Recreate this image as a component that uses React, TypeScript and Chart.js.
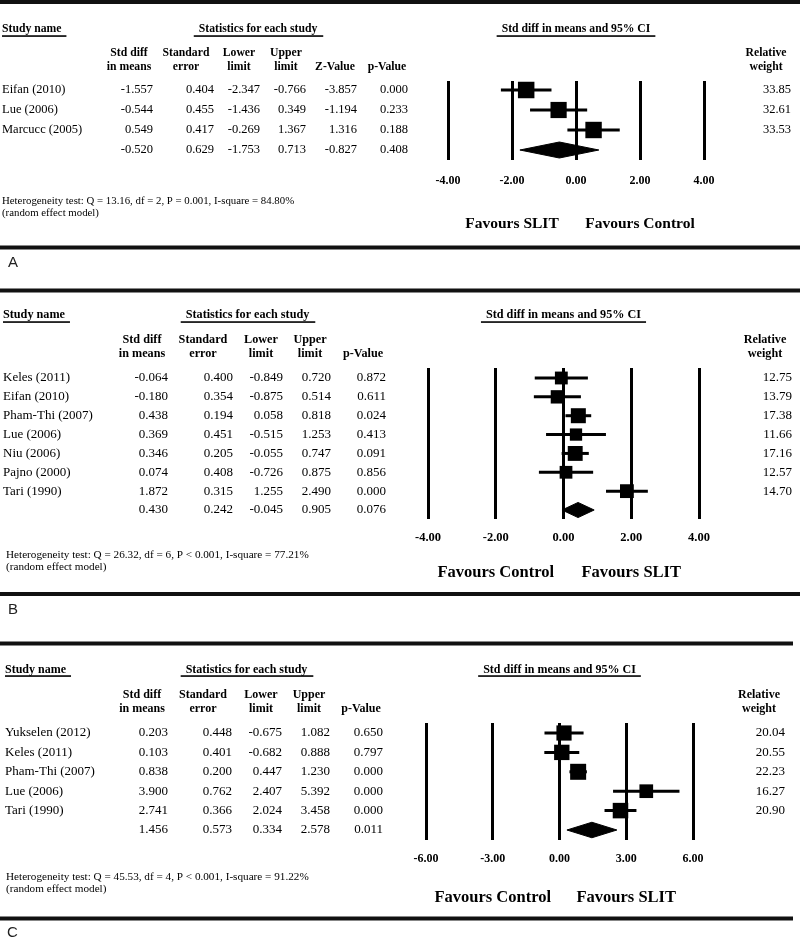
import React, { useEffect, useRef } from 'react';
import { Chart, registerables } from 'chart.js';

Chart.register(...registerables);

// ---------------- Panel A data ----------------
const studiesA = ['Eifan (2010)', 'Lue (2006)', 'Marcucc (2005)'];
const smdA = [-1.557, -0.544, 0.549];
const seA = [0.404, 0.455, 0.417];
const lowerA = [-2.347, -1.436, -0.269];
const upperA = [-0.766, 0.349, 1.367];
const zA = [-3.857, -1.194, 1.316];
const pA = [0.0, 0.233, 0.188];
const weightA = [33.85, 32.61, 33.53];
const pooledA = [-0.52, 0.629, -1.753, 0.713, -0.827, 0.408]; // smd, se, lower, upper, z, p
const ticksA = [-4, -2, 0, 2, 4];
const hetA = ['Heterogeneity test: Q = 13.16, df = 2, P = 0.001, I-square = 84.80%', '(random effect model)'];
const favoursA = ['Favours SLIT', 'Favours Control'];

// ---------------- Panel B data ----------------
const studiesB = ['Keles (2011)', 'Eifan (2010)', 'Pham-Thi (2007)', 'Lue (2006)', 'Niu (2006)', 'Pajno (2000)', 'Tari (1990)'];
const smdB = [-0.064, -0.18, 0.438, 0.369, 0.346, 0.074, 1.872];
const seB = [0.4, 0.354, 0.194, 0.451, 0.205, 0.408, 0.315];
const lowerB = [-0.849, -0.875, 0.058, -0.515, -0.055, -0.726, 1.255];
const upperB = [0.72, 0.514, 0.818, 1.253, 0.747, 0.875, 2.49];
const pB = [0.872, 0.611, 0.024, 0.413, 0.091, 0.856, 0.0];
const weightB = [12.75, 13.79, 17.38, 11.66, 17.16, 12.57, 14.7];
const pooledB = [0.43, 0.242, -0.045, 0.905, 0.076]; // smd, se, lower, upper, p
const ticksB = [-4, -2, 0, 2, 4];
const hetB = ['Heterogeneity test: Q = 26.32, df = 6, P < 0.001, I-square = 77.21%', '(random effect model)'];
const favoursB = ['Favours Control', 'Favours SLIT'];

// ---------------- Panel C data ----------------
const studiesC = ['Yukselen (2012)', 'Keles (2011)', 'Pham-Thi (2007)', 'Lue (2006)', 'Tari (1990)'];
const smdC = [0.203, 0.103, 0.838, 3.9, 2.741];
const seC = [0.448, 0.401, 0.2, 0.762, 0.366];
const lowerC = [-0.675, -0.682, 0.447, 2.407, 2.024];
const upperC = [1.082, 0.888, 1.23, 5.392, 3.458];
const pC = [0.65, 0.797, 0.0, 0.0, 0.0];
const weightC = [20.04, 20.55, 22.23, 16.27, 20.9];
const pooledC = [1.456, 0.573, 0.334, 2.578, 0.011]; // smd, se, lower, upper, p
const ticksC = [-6, -3, 0, 3, 6];
const hetC = ['Heterogeneity test: Q = 45.53, df = 4, P < 0.001, I-square = 91.22%', '(random effect model)'];
const favoursC = ['Favours Control', 'Favours SLIT'];

const headersWithZ = [['Std diff', 'in means'], ['Standard', 'error'], ['Lower', 'limit'], ['Upper', 'limit'], ['', 'Z-Value'], ['', 'p-Value']];
const headersNoZ = [['Std diff', 'in means'], ['Standard', 'error'], ['Lower', 'limit'], ['Upper', 'limit'], ['', 'p-Value']];

const SERIF = '"Liberation Serif", "Times New Roman", serif';
const SANS = '"Liberation Sans", Arial, sans-serif';

type Layout = {
  top: number; height: number;
  ruleTop: number; ruleBottom: number; ruleRight: number;
  headY: number; underY: number; labelX: number; hetX: number;
  colCenters: number[]; colRights: number[]; colHeadY: number[];
  rwCenter: number; rwRight: number;
  plotLeft: number; plotRight: number; plotTop: number; plotBottom: number;
  yMin: number; yMax: number; tickPad: number;
  favY: number; hetY: number[]; letterX: number; letterY: number;
  headSize: number; bodySize: number; hetSize: number; favSize: number; tickSize: number;
  maxSide: number;
};

type Panel = {
  letter: string;
  studies: string[];
  columns: number[][];
  pooled: number[];
  smd: number[]; lower: number[]; upper: number[]; weight: number[];
  ticks: number[];
  headers: string[][];
  het: string[];
  favours: string[];
  L: Layout;
};

const panels: Panel[] = [
  {
    letter: 'A', studies: studiesA, columns: [smdA, seA, lowerA, upperA, zA, pA], pooled: pooledA,
    smd: smdA, lower: lowerA, upper: upperA, weight: weightA, ticks: ticksA, headers: headersWithZ,
    het: hetA, favours: favoursA,
    L: {
      top: 0, height: 275, ruleTop: 2, ruleBottom: 247.5, ruleRight: 800,
      headY: 29, underY: 36, labelX: 2, hetX: 2,
      colCenters: [129, 186, 239, 286, 335, 387], colRights: [153, 214, 260, 306, 357, 408], colHeadY: [53, 67],
      rwCenter: 766, rwRight: 791,
      plotLeft: 448, plotRight: 704, plotTop: 81, plotBottom: 160, yMin: -0.45, yMax: 3.5, tickPad: 14,
      favY: 224, hetY: [201, 213], letterX: 8, letterY: 263,
      headSize: 11.7, bodySize: 12.5, hetSize: 10.8, favSize: 15.5, tickSize: 12, maxSide: 16.5,
    },
  },
  {
    letter: 'B', studies: studiesB, columns: [smdB, seB, lowerB, upperB, pB], pooled: pooledB,
    smd: smdB, lower: lowerB, upper: upperB, weight: weightB, ticks: ticksB, headers: headersNoZ,
    het: hetB, favours: favoursB,
    L: {
      top: 275, height: 345, ruleTop: 290.5, ruleBottom: 594, ruleRight: 800,
      headY: 315, underY: 322, labelX: 3, hetX: 6,
      colCenters: [142, 203, 261, 310, 363], colRights: [168, 233, 283, 331, 386], colHeadY: [340, 354],
      rwCenter: 765, rwRight: 792,
      plotLeft: 428, plotRight: 699, plotTop: 368, plotBottom: 519, yMin: -0.53, yMax: 7.477, tickPad: 11,
      favY: 573, hetY: [555, 567], letterX: 8, letterY: 610,
      headSize: 12.2, bodySize: 13, hetSize: 11.2, favSize: 16.5, tickSize: 12.5, maxSide: 15,
    },
  },
  {
    letter: 'C', studies: studiesC, columns: [smdC, seC, lowerC, upperC, pC], pooled: pooledC,
    smd: smdC, lower: lowerC, upper: upperC, weight: weightC, ticks: ticksC, headers: headersNoZ,
    het: hetC, favours: favoursC,
    L: {
      top: 620, height: 324, ruleTop: 643.5, ruleBottom: 918.5, ruleRight: 793,
      headY: 670, underY: 676, labelX: 5, hetX: 6,
      colCenters: [142, 203, 261, 309, 361], colRights: [168, 232, 282, 330, 383], colHeadY: [695, 709],
      rwCenter: 759, rwRight: 785,
      plotLeft: 426, plotRight: 693, plotTop: 723, plotBottom: 840, yMin: -0.515, yMax: 5.515, tickPad: 12,
      favY: 898, hetY: [877, 889], letterX: 7, letterY: 933,
      headSize: 12, bodySize: 13, hetSize: 11.2, favSize: 16.5, tickSize: 12, maxSide: 16,
    },
  },
];

function tablePlugin(P: Panel) {
  return {
    id: 'forestTable' + P.letter,
    afterDraw(chart: any) {
      const ctx: CanvasRenderingContext2D = chart.ctx;
      const L = P.L;
      const Y = (y: number) => y - L.top;
      const ys = chart.scales.y;
      const xs = chart.scales.x;
      ctx.save();
      // thick rules
      ctx.fillStyle = '#111';
      ctx.fillRect(0, Y(L.ruleTop) - 2, L.ruleRight, 4);
      ctx.fillRect(0, Y(L.ruleBottom) - 2, L.ruleRight, 4);

      ctx.fillStyle = '#000';
      ctx.textBaseline = 'middle';
      const head = `bold ${L.headSize}px ${SERIF}`;
      const body = `${L.bodySize}px ${SERIF}`;

      // section headers with underlines
      ctx.font = head;
      const underline = (x1: number, x2: number) => ctx.fillRect(x1, Y(L.underY) - 0.75, x2 - x1, 1.6);
      ctx.textAlign = 'left';
      ctx.fillText('Study name', L.labelX, Y(L.headY));
      let w = ctx.measureText('Study name').width;
      underline(L.labelX, L.labelX + w + 5);

      const statText = 'Statistics for each study';
      const statCenter = (L.colCenters[0] + L.colCenters[L.colCenters.length - 1]) / 2 + (P.headers.length === 6 ? 0 : -5);
      ctx.textAlign = 'center';
      ctx.fillText(statText, statCenter, Y(L.headY));
      w = ctx.measureText(statText).width;
      underline(statCenter - w / 2 - 5, statCenter + w / 2 + 6);

      const ciText = 'Std diff in means and 95% CI';
      const ciCenter = (xs.left + xs.right) / 2;
      ctx.fillText(ciText, ciCenter, Y(L.headY));
      w = ctx.measureText(ciText).width;
      underline(ciCenter - w / 2 - 5, ciCenter + w / 2 + 5);

      // column headers
      P.headers.forEach((h, c) => {
        if (h[0]) ctx.fillText(h[0], L.colCenters[c], Y(L.colHeadY[0]));
        ctx.fillText(h[1], L.colCenters[c], Y(L.colHeadY[1]));
      });
      ctx.fillText('Relative', L.rwCenter, Y(L.colHeadY[0]));
      ctx.fillText('weight', L.rwCenter, Y(L.colHeadY[1]));

      // rows
      ctx.font = body;
      const n = P.studies.length;
      for (let i = 0; i <= n; i++) {
        const y = ys.getPixelForValue(i);
        if (i < n) {
          ctx.textAlign = 'left';
          ctx.fillText(P.studies[i], L.labelX, y);
        }
        ctx.textAlign = 'right';
        P.columns.forEach((col, c) => {
          const v = i < n ? col[i] : P.pooled[c];
          ctx.fillText(v.toFixed(3), L.colRights[c], y);
        });
        if (i < n) ctx.fillText(P.weight[i].toFixed(2), L.rwRight, y);
      }

      // heterogeneity
      ctx.font = `${L.hetSize}px ${SERIF}`;
      ctx.textAlign = 'left';
      P.het.forEach((t, k) => ctx.fillText(t, L.hetX, Y(L.hetY[k])));

      // favours labels under the inner ticks
      ctx.font = `bold ${L.favSize}px ${SERIF}`;
      ctx.textAlign = 'center';
      ctx.fillText(P.favours[0], xs.getPixelForValue(P.ticks[1]), Y(L.favY));
      ctx.fillText(P.favours[1], xs.getPixelForValue(P.ticks[3]), Y(L.favY));

      // panel letter
      ctx.font = `15px ${SANS}`;
      ctx.fillStyle = '#222';
      ctx.textAlign = 'left';
      ctx.fillText(P.letter, L.letterX, Y(L.letterY));
      ctx.restore();
    },
  };
}

function buildConfig(P: Panel): any {
  const L = P.L;
  const n = P.studies.length;
  const wmax = Math.max(...P.weight);
  const datasets: any[] = [];
  P.studies.forEach((_, i) => {
    datasets.push({
      data: [{ x: P.lower[i], y: i }, { x: P.upper[i], y: i }],
      showLine: true, borderColor: '#000', borderWidth: 3, pointRadius: 0, clip: false, fill: false,
    });
  });
  datasets.push({
    data: P.smd.map((v, i) => ({ x: v, y: i })),
    pointStyle: 'rect',
    pointRadius: P.weight.map((wt) => (L.maxSide * Math.sqrt(wt / wmax)) / Math.SQRT2),
    backgroundColor: '#000', borderColor: '#000', borderWidth: 0, clip: false,
  });
  const [pSmd, , pLo, pHi] = P.pooled;
  datasets.push({
    data: [
      { x: pLo, y: n }, { x: pSmd, y: n - 0.4 }, { x: pHi, y: n }, { x: pSmd, y: n + 0.4 }, { x: pLo, y: n },
    ],
    showLine: true, fill: 'shape', backgroundColor: '#000', borderColor: '#000', borderWidth: 1,
    pointRadius: 0, clip: false, tension: 0,
  });
  const step = P.ticks[1] - P.ticks[0];
  return {
    type: 'scatter',
    data: { datasets },
    options: {
      animation: false, responsive: false, devicePixelRatio: 1, events: [],
      layout: { padding: { left: L.plotLeft, right: 800 - L.plotRight, top: L.plotTop - L.top, bottom: 0 } },
      plugins: { legend: { display: false }, tooltip: { enabled: false } },
      scales: {
        x: {
          type: 'linear', position: 'bottom', min: P.ticks[0], max: P.ticks[P.ticks.length - 1],
          afterFit: (s: any) => { s.height = L.top + L.height - L.plotBottom; },
          grid: { display: true, color: '#000', lineWidth: 3, drawTicks: false },
          border: { display: false },
          ticks: {
            stepSize: step, autoSkip: false, maxRotation: 0, padding: L.tickPad, color: '#000',
            font: { family: SERIF, size: L.tickSize, weight: 'bold' },
            callback: (v: any) => Number(v).toFixed(2),
          },
        },
        y: {
          type: 'linear', display: false, reverse: true, min: L.yMin, max: L.yMax,
          afterFit: (s: any) => { s.width = 0; },
        },
      },
    },
    plugins: [tablePlugin(P)],
  };
}

function ForestPanel({ panel }: { panel: Panel }) {
  const ref = useRef<HTMLCanvasElement | null>(null);
  useEffect(() => {
    const chart = new Chart(ref.current as HTMLCanvasElement, buildConfig(panel));
    return () => chart.destroy();
  }, [panel]);
  return (
    <canvas
      ref={ref}
      width={800}
      height={panel.L.height}
      style={{ position: 'absolute', left: 0, top: panel.L.top, width: 800, height: panel.L.height, display: 'block' }}
    />
  );
}

export default function App() {
  return (
    <div style={{ position: 'absolute', left: 0, top: 0, width: 800, height: 944, background: '#fff', overflow: 'hidden' }}>
      {panels.map((p) => (
        <ForestPanel key={p.letter} panel={p} />
      ))}
    </div>
  );
}
